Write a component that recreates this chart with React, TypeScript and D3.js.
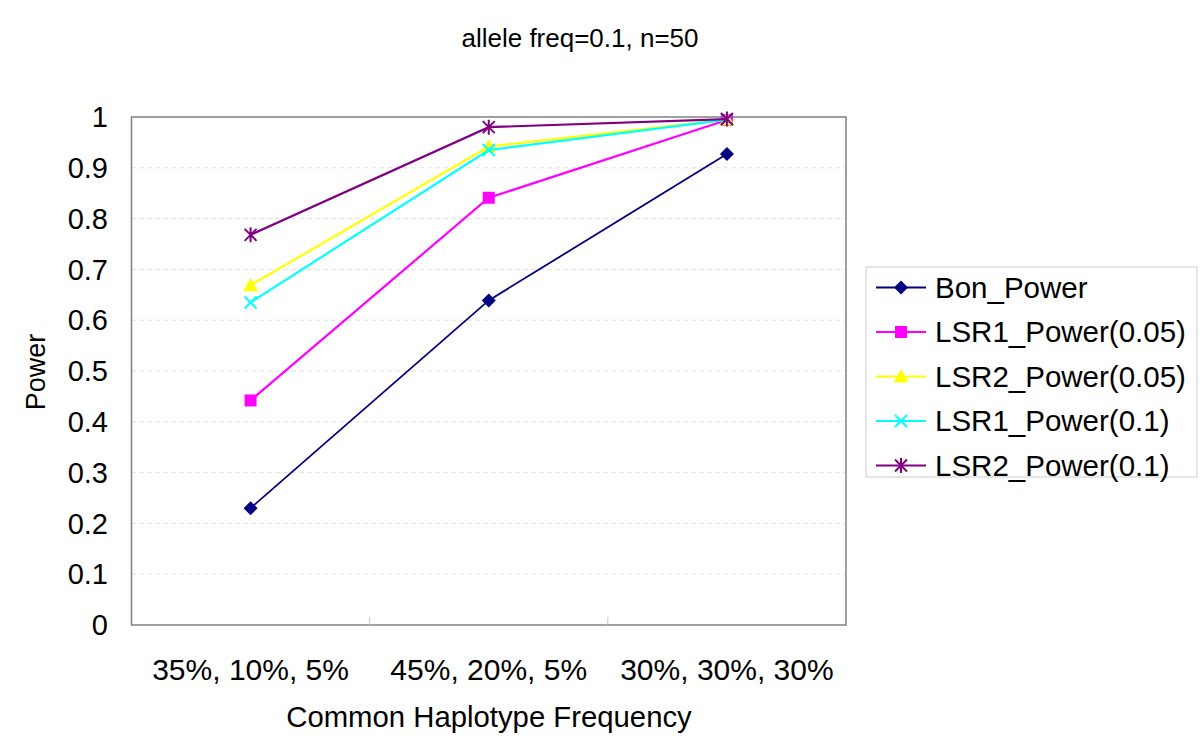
import React from 'react'
import { scaleLinear, scalePoint, line } from 'd3'

const WIDTH = 1200
const HEIGHT = 745
const FONT = 'Arial, "Liberation Sans", sans-serif'

const categories = ['35%, 10%, 5%', '45%, 20%, 5%', '30%, 30%, 30%']
const yTicks = [0, 0.1, 0.2, 0.3, 0.4, 0.5, 0.6, 0.7, 0.8, 0.9, 1]

const seriesNames = ['Bon_Power', 'LSR1_Power(0.05)', 'LSR2_Power(0.05)', 'LSR1_Power(0.1)', 'LSR2_Power(0.1)']
const bonPower = [0.23, 0.639, 0.927]
const lsr1Power005 = [0.442, 0.841, 0.994]
const lsr2Power005 = [0.669, 0.942, 0.995]
const lsr1Power01 = [0.635, 0.935, 0.995]
const lsr2Power01 = [0.768, 0.980, 0.996]
const seriesColors = ['#000080', '#ff00ff', '#ffff00', '#00ffff', '#800080']
const seriesMarkers = ['diamond', 'square', 'triangle', 'x', 'star']

const series = [bonPower, lsr1Power005, lsr2Power005, lsr1Power01, lsr2Power01].map((values, i) => ({
  name: seriesNames[i],
  values,
  color: seriesColors[i],
  marker: seriesMarkers[i],
}))

const PLOT = { left: 131.5, right: 846, top: 117, bottom: 625 }

const Marker = ({ type, x, y, color }) => {
  const t = `translate(${x}, ${y})`
  if (type === 'diamond') {
    return <path transform={t} d="M0,-7L7,0L0,7L-7,0Z" fill={color} />
  }
  if (type === 'square') {
    return <rect transform={t} x={-6} y={-6} width={12} height={12} fill={color} />
  }
  if (type === 'triangle') {
    return <path transform={t} d="M0,-7.5L7.5,6L-7.5,6Z" fill={color} />
  }
  if (type === 'x') {
    return <path transform={t} d="M-6,-6L6,6M-6,6L6,-6" stroke={color} strokeWidth={2} fill="none" />
  }
  return (
    <path transform={t} d="M-6,-6L6,6M-6,6L6,-6M0,-7.5L0,7.5" stroke={color} strokeWidth={2} fill="none" />
  )
}

const App = () => {
  const xScale = scalePoint().domain(categories).range([PLOT.left, PLOT.right]).padding(0.5)
  const yScale = scaleLinear().domain([0, 1]).range([PLOT.bottom, PLOT.top])
  const step = xScale.step()

  const linePath = line()
    .x((d, i) => xScale(categories[i]))
    .y(d => yScale(d))

  const legendX = 866
  const legendY = 267
  const legendRow = 44.5

  return (
    <svg
      viewBox={`0 0 ${WIDTH} ${HEIGHT}`}
      width={WIDTH}
      height={HEIGHT}
      style={{ position: 'absolute', left: 0, top: 0, background: 'white', fontFamily: FONT }}
    >
      <rect x={0} y={0} width={WIDTH} height={HEIGHT} fill="white" />

      <text x={580} y={47} textAnchor="middle" fontSize={26} fill="#000">allele freq=0.1, n=50</text>

      {/* grid */}
      <g data-grid>
        {yTicks.filter(t => t > 0 && t < 1).map(t => (
          <line key={t} x1={PLOT.left} x2={PLOT.right} y1={yScale(t)} y2={yScale(t)}
            stroke="#dcdcdc" strokeDasharray="4,4" strokeWidth={1} />
        ))}
      </g>

      {/* plot frame */}
      <rect x={PLOT.left} y={PLOT.top} width={PLOT.right - PLOT.left} height={PLOT.bottom - PLOT.top}
        fill="none" stroke="#808080" strokeWidth={1.5} />

      {/* x ticks between categories */}
      <g data-x-axis>
        {categories.slice(1).map(c => (
          <line key={c} x1={xScale(c) - step / 2} x2={xScale(c) - step / 2} y1={PLOT.bottom} y2={PLOT.bottom - 8}
            stroke="#c8c8c8" strokeWidth={1} />
        ))}
        {categories.map(c => (
          <text key={c} x={xScale(c)} y={680} textAnchor="middle" fontSize={30} fill="#000">{c}</text>
        ))}
      </g>

      <g data-y-axis>
        {yTicks.map(t => (
          <text key={t} x={108} y={yScale(t)} dy="0.35em" textAnchor="end" fontSize={29} fill="#000">{t}</text>
        ))}
      </g>

      <text x={489} y={727} textAnchor="middle" fontSize={29.3} fill="#000">Common Haplotype Frequency</text>
      <text transform="translate(45, 372) rotate(-90)" textAnchor="middle" fontSize={27} fill="#000">Power</text>

      {/* series */}
      {series.map(s => (
        <g key={s.name}>
          <path d={linePath(s.values)} fill="none" stroke={s.color} strokeWidth={s.marker === 'diamond' ? 1.8 : 2.2} />
          {s.values.map((v, i) => (
            <Marker key={i} type={s.marker} x={xScale(categories[i])} y={yScale(v)} color={s.color} />
          ))}
        </g>
      ))}

      {/* legend */}
      <g data-legend>
        <rect x={legendX} y={legendY} width={331} height={210} fill="white" stroke="#cccccc" strokeWidth={1} />
        {series.map((s, i) => {
          const cy = legendY + 20.5 + i * legendRow
          return (
            <g key={s.name}>
              <line x1={876} x2={926} y1={cy} y2={cy} stroke={s.color} strokeWidth={s.marker === 'diamond' ? 1.8 : 2.2} />
              <Marker type={s.marker} x={901} y={cy} color={s.color} />
              <text x={935} y={cy} dy="0.35em" fontSize={29.5} fill="#000">{s.name}</text>
            </g>
          )
        })}
      </g>
    </svg>
  )
}

export default App
